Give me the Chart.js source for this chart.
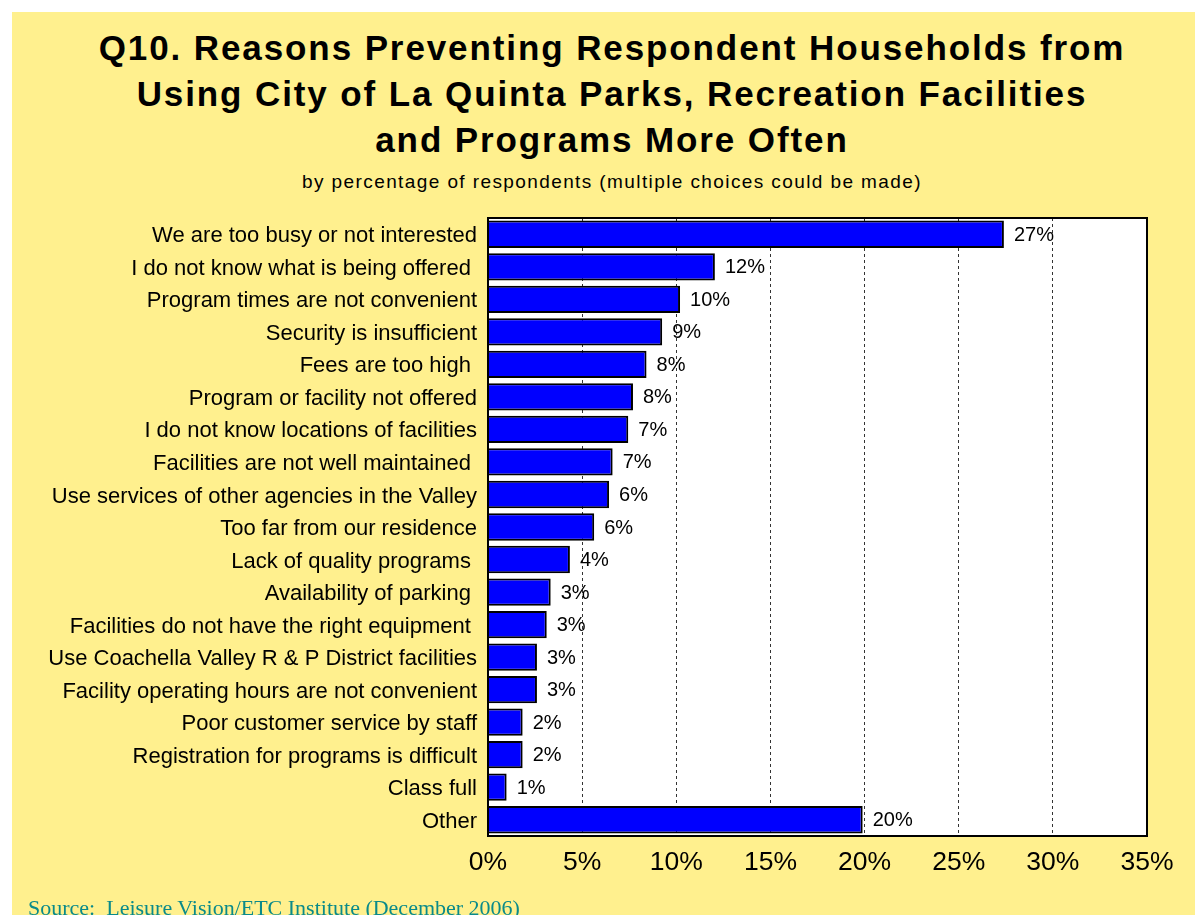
<!DOCTYPE html>
<html>
<head>
<meta charset="utf-8">
<title>Q10. Reasons Preventing Respondent Households</title>
<script src="https://cdn.jsdelivr.net/npm/chart.js@4/dist/chart.umd.min.js"></script>
<style>
  html, body { margin: 0; padding: 0; background: #fff; overflow: hidden; }
  .frame {
    position: absolute; left: 12px; top: 12px; width: 1183px; height: 903px;
    background: #FFF08E;
  }
  .title {
    position: absolute; left: 12px; top: 25px; width: 1200px;
    text-align: center; font-family: "Liberation Sans", Arial, sans-serif;
    font-weight: bold; font-size: 35px; line-height: 46px; letter-spacing: 1.9px; color: #000;
  }
  .subtitle {
    position: absolute; left: 12px; top: 171px; width: 1200px;
    text-align: center; font-family: "Liberation Sans", Arial, sans-serif;
    font-size: 19px; letter-spacing: 1.4px; color: #000;
  }
  .source {
    position: absolute; left: 28px; top: 895px;
    font-family: "Liberation Serif", "Times New Roman", serif;
    font-size: 22px; color: #0A8A8A;
  }
  #chartWrap { position: absolute; left: 0; top: 0; width: 1195px; height: 915px; }
</style>
</head>
<body>
<div class="frame"></div>
<div class="title">Q10. Reasons Preventing Respondent Households from<br>Using City of La Quinta Parks, Recreation Facilities<br>and Programs More Often</div>
<div class="subtitle">by percentage of respondents (multiple choices could be made)</div>
<div id="chartWrap"><canvas id="reasonsChart" width="1195" height="915"></canvas></div>
<div class="source">Source:&nbsp; Leisure Vision/ETC Institute (December 2006)</div>

<script>
// ─── DATA ──────────────────────────────────────────────────
const reasons = [
  'We are too busy or not interested',
  'I do not know what is being offered ',
  'Program times are not convenient',
  'Security is insufficient',
  'Fees are too high ',
  'Program or facility not offered',
  'I do not know locations of facilities',
  'Facilities are not well maintained ',
  'Use services of other agencies in the Valley',
  'Too far from our residence',
  'Lack of quality programs ',
  'Availability of parking ',
  'Facilities do not have the right equipment ',
  'Use Coachella Valley R & P District facilities',
  'Facility operating hours are not convenient',
  'Poor customer service by staff',
  'Registration for programs is difficult',
  'Class full',
  'Other'
];

const percents = [27.4, 12.05, 10.2, 9.25, 8.42, 7.7, 7.45, 6.62, 6.43, 5.64,
  4.35, 3.33, 3.12, 2.6, 2.6, 1.84, 1.84, 0.99, 19.9];

const xTicks = [0, 5, 10, 15, 20, 25, 30, 35];

const FONT = '"Liberation Sans", Arial, sans-serif';

// ─── PLUGINS ───────────────────────────────────────────────
// white plot background and black frame round the plot area
const plotFrame = {
  id: 'plotFrame',
  beforeDraw(chart) {
    const { ctx, chartArea: a } = chart;
    ctx.save();
    ctx.fillStyle = '#fff';
    ctx.fillRect(a.left, a.top, a.right - a.left, a.bottom - a.top);
    ctx.restore();
  },
  afterDatasetsDraw(chart) {
    const { ctx, chartArea: a } = chart;
    ctx.save();
    ctx.strokeStyle = '#000';
    ctx.lineWidth = 2;
    ctx.strokeRect(a.left, a.top, a.right - a.left, a.bottom - a.top);
    ctx.restore();
  }
};

// percentage written just past the end of each bar
const barLabels = {
  id: 'barLabels',
  afterDatasetsDraw(chart) {
    const { ctx } = chart;
    const meta = chart.getDatasetMeta(0);
    ctx.save();
    ctx.font = '20px ' + FONT;
    ctx.fillStyle = '#000';
    ctx.textAlign = 'left';
    ctx.textBaseline = 'middle';
    meta.data.forEach((bar, i) => {
      ctx.fillText(Math.round(percents[i]) + '%', bar.x + 10, bar.y + 1);
    });
    ctx.restore();
  }
};

// ─── CHART ─────────────────────────────────────────────────
const ctx = document.getElementById('reasonsChart').getContext('2d');
new Chart(ctx, {
  type: 'bar',
  data: {
    labels: reasons,
    datasets: [{
      data: percents,
      backgroundColor: '#0000FF',
      borderColor: '#000',
      borderWidth: 2,
      borderSkipped: 'left',
      barPercentage: 0.84,
      categoryPercentage: 1
    }]
  },
  options: {
    indexAxis: 'y',
    responsive: false,
    animation: false,
    layout: { padding: { left: 0, right: 48, top: 218, bottom: 0 } },
    plugins: {
      legend: { display: false },
      tooltip: { enabled: false }
    },
    scales: {
      x: {
        min: 0,
        max: 35,
        afterBuildTicks: scale => { scale.ticks = xTicks.map(v => ({ value: v })); },
        afterFit: scale => { scale.height = 79; },
        border: { display: false, dash: [3, 3] },
        grid: {
          drawTicks: false,
          color: ctx => (ctx.tick && ctx.tick.value > 0 && ctx.tick.value < 35) ? '#333' : 'rgba(0,0,0,0)',
          lineWidth: 1
        },
        ticks: {
          padding: 11,
          color: '#000',
          font: { family: FONT, size: 26.5 },
          maxRotation: 0,
          callback: v => v + '%'
        }
      },
      y: {
        afterFit: scale => { scale.width = 488; },
        border: { display: false },
        grid: { display: false, drawTicks: false },
        ticks: {
          padding: 11,
          labelOffset: 2,
          color: '#000',
          autoSkip: false,
          font: { family: FONT, size: 22 }
        }
      }
    }
  },
  plugins: [plotFrame, barLabels]
});
</script>
</body>
</html>
